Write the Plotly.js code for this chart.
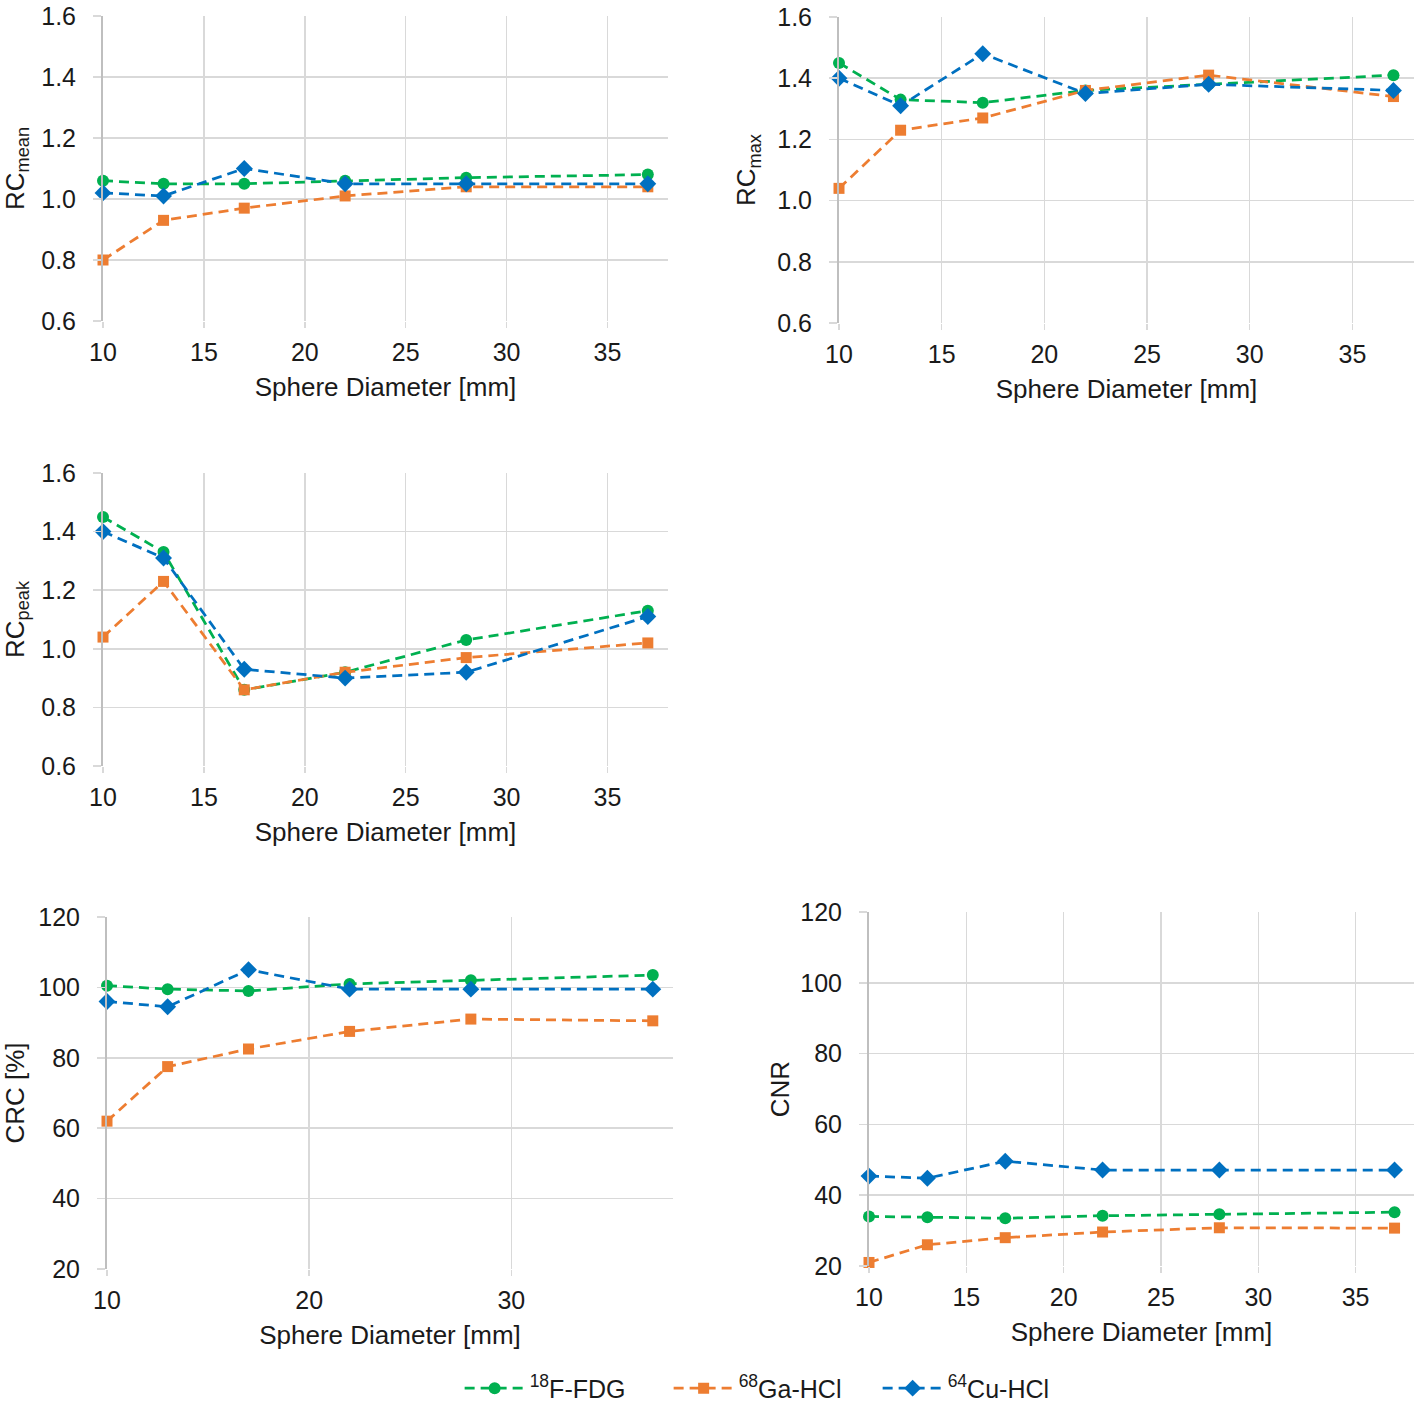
<!DOCTYPE html>
<html>
<head>
<meta charset="utf-8">
<script src="https://cdn.plot.ly/plotly-3.0.1.min.js"></script>
<style>
html,body{margin:0;padding:0;background:#fff;}
#chart{width:1416px;height:1403px;}
</style>
</head>
<body>
<div id="chart"></div>
<script>
// Sphere diameters (mm)
const diameters = [10, 13, 17, 22, 28, 37];

// Series names
const seriesNames = ['<sup>18</sup>F-FDG', '<sup>68</sup>Ga-HCl', '<sup>64</sup>Cu-HCl'];

// RC mean
const rcMeanFDG = [1.06, 1.05, 1.05, 1.06, 1.07, 1.08];
const rcMeanGa  = [0.80, 0.93, 0.97, 1.01, 1.04, 1.04];
const rcMeanCu  = [1.02, 1.01, 1.10, 1.05, 1.05, 1.05];

// RC max
const rcMaxFDG = [1.45, 1.33, 1.32, 1.36, 1.38, 1.41];
const rcMaxGa  = [1.04, 1.23, 1.27, 1.36, 1.41, 1.34];
const rcMaxCu  = [1.40, 1.31, 1.48, 1.35, 1.38, 1.36];

// RC peak
const rcPeakFDG = [1.45, 1.33, 0.86, 0.92, 1.03, 1.13];
const rcPeakGa  = [1.04, 1.23, 0.86, 0.92, 0.97, 1.02];
const rcPeakCu  = [1.40, 1.31, 0.93, 0.90, 0.92, 1.11];

// CRC [%]
const crcFDG = [100.5, 99.5, 99.0, 101.0, 102.0, 103.5];
const crcGa  = [62.0, 77.5, 82.5, 87.5, 91.0, 90.5];
const crcCu  = [96.0, 94.5, 105.0, 99.5, 99.5, 99.5];

// CNR
const cnrFDG = [34.0, 33.8, 33.5, 34.2, 34.6, 35.2];
const cnrGa  = [21.0, 26.0, 28.0, 29.6, 30.8, 30.7];
const cnrCu  = [45.4, 44.8, 49.6, 47.1, 47.1, 47.1];

const colors = ['#00B050', '#ED7D31', '#0070C0'];
const symbols = ['circle', 'square', 'diamond'];
const msizes = [12, 11, 13];

const panels = [
  {ax: '', data: [rcMeanFDG, rcMeanGa, rcMeanCu]},
  {ax: '2', data: [rcMaxFDG, rcMaxGa, rcMaxCu]},
  {ax: '3', data: [rcPeakFDG, rcPeakGa, rcPeakCu]},
  {ax: '4', data: [crcFDG, crcGa, crcCu]},
  {ax: '5', data: [cnrFDG, cnrGa, cnrCu]}
];

const traces = [];
panels.forEach((p, pi) => {
  p.data.forEach((ys, si) => {
    traces.push({
      x: diameters, y: ys,
      type: 'scatter', mode: 'lines+markers',
      name: seriesNames[si],
      legendgroup: 's' + si,
      showlegend: pi === 0,
      cliponaxis: false,
      xaxis: 'x' + p.ax, yaxis: 'y' + p.ax,
      line: {color: colors[si], width: 2.75, dash: '10px,6px'},
      marker: {color: colors[si], symbol: symbols[si], size: msizes[si]}
    });
  });
});

const W = 1416, H = 1403;
const fx = px => px / W;
const fy = py => (H - py) / H;

const FAM = 'Arial, "Liberation Sans", sans-serif';
const tickFont = {family: FAM, size: 25, color: '#1a1a1a'};
const titleFont = {family: FAM, size: 26, color: '#1a1a1a'};

function xax(l, r, dtick) {
  return {
    domain: [fx(l), fx(r)], range: [10, 38], dtick: dtick, tick0: 10,
    showgrid: true, gridcolor: '#d9d9d9', gridwidth: 1.5,
    showline: false, zeroline: false,
    ticks: 'outside', ticklen: 6, tickcolor: '#d9d9d9', tickwidth: 1.5,
    ticklabelstandoff: 3,
    tickfont: tickFont, fixedrange: true,
    title: {text: 'Sphere Diameter [mm]', font: titleFont, standoff: 12}
  };
}
function yax(t, b, range, dtick, fmt, title, anchor, standoff) {
  return {
    domain: [fy(b), fy(t)], range: range, dtick: dtick, tickformat: fmt,
    showgrid: true, gridcolor: '#d9d9d9', gridwidth: 1.5,
    showline: true, linecolor: '#bfbfbf', linewidth: 2, zeroline: false,
    ticks: 'outside', ticklen: 8, tickcolor: '#d9d9d9', tickwidth: 1.5,
    ticklabelstandoff: 12,
    tickfont: tickFont, fixedrange: true,
    title: {text: title, font: titleFont, standoff: standoff},
    anchor: anchor
  };
}

const x1 = xax(103, 668, 5); x1.anchor = 'y';
const x2 = xax(839, 1414, 5); x2.anchor = 'y2';
const x3 = xax(103, 668, 5); x3.anchor = 'y3';
const x4 = xax(107, 673, 10); x4.anchor = 'y4';
const x5 = xax(869, 1414, 5); x5.anchor = 'y5';

const layout = {
  width: W, height: H,
  margin: {l: 0, r: 0, t: 0, b: 0, autoexpand: false},
  paper_bgcolor: '#fff', plot_bgcolor: '#fff',
  font: titleFont,
  showlegend: true,
  legend: {
    orientation: 'h', x: 0.546, xanchor: 'center', y: -0.006, yanchor: 'bottom',
    font: {family: FAM, size: 25, color: '#1a1a1a'},
    itemwidth: 60, entrywidth: 134, entrywidthmode: 'pixels',
    traceorder: 'normal', bgcolor: 'rgba(0,0,0,0)'
  },
  xaxis: x1,
  yaxis: yax(16, 321, [0.6, 1.6], 0.2, '.1f', 'RC<sub>mean</sub>', 'x', 14),
  xaxis2: x2,
  yaxis2: yax(17, 323, [0.6, 1.6], 0.2, '.1f', 'RC<sub>max</sub>', 'x2', 14),
  xaxis3: x3,
  yaxis3: yax(473, 766, [0.6, 1.6], 0.2, '.1f', 'RC<sub>peak</sub>', 'x3', 14),
  xaxis4: x4,
  yaxis4: yax(917, 1269, [20, 120], 20, 'd', 'CRC [%]', 'x4', 12),
  xaxis5: x5,
  yaxis5: yax(912, 1266, [20, 120], 20, 'd', 'CNR', 'x5', 3)
};

Plotly.newPlot('chart', traces, layout, {displayModeBar: false, staticPlot: true});
</script>
</body>
</html>
